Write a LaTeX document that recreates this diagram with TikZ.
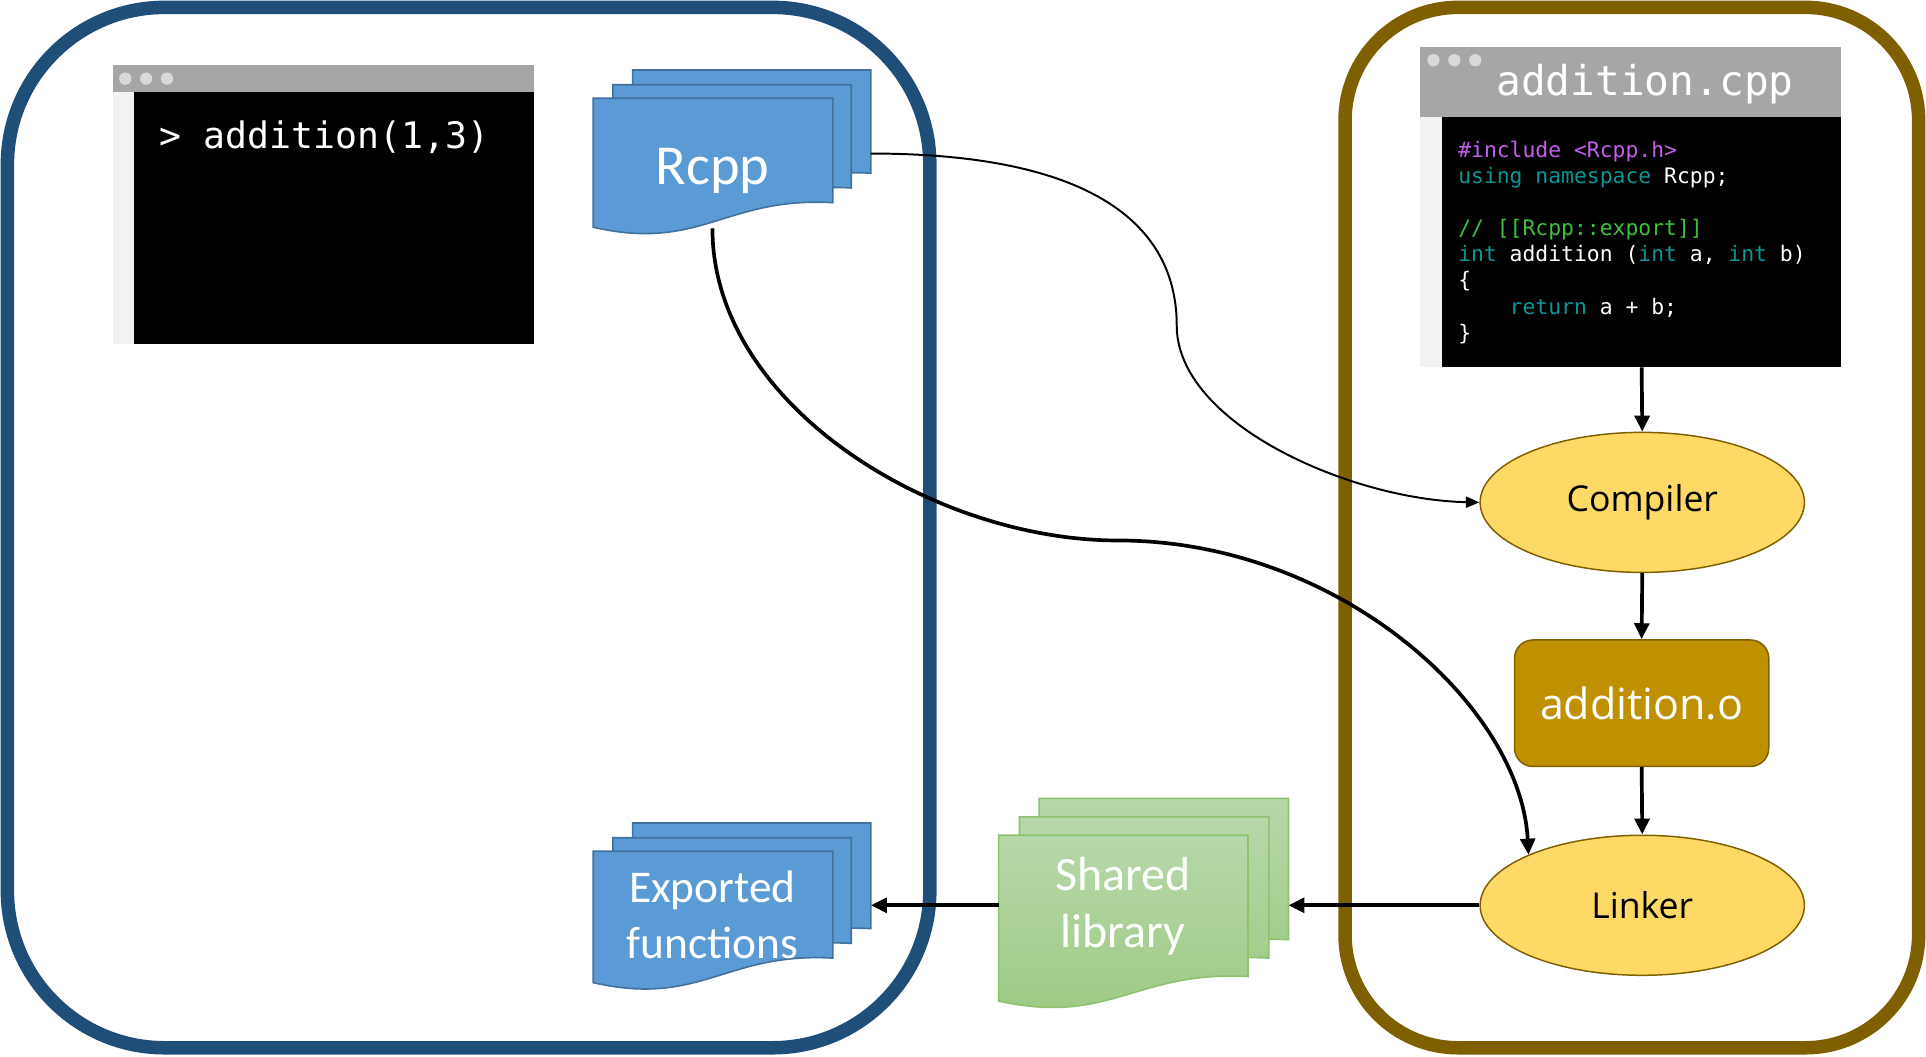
\documentclass[tikz,border=0pt]{standalone}
\usepackage{fontspec}
\usetikzlibrary{shapes.geometric,arrows.meta}
\newfontfamily\carl{Carlito}
\newfontfamily\osans{Open Sans}
\newfontfamily\dmono{DejaVu Sans Mono}[WordSpace={1,0,0}]
\definecolor{boxblue}{HTML}{1F4E79}
\definecolor{boxbrown}{HTML}{7F6000}
\definecolor{docfill}{HTML}{5B9BD5}
\definecolor{docline}{HTML}{41719C}
\definecolor{greentop}{HTML}{B7D8AA}
\definecolor{greenbot}{HTML}{9CC982}
\definecolor{greenline}{HTML}{8DC26F}
\definecolor{ellfill}{HTML}{FFD966}
\definecolor{objfill}{HTML}{BF9000}
\definecolor{bargray}{HTML}{A6A6A6}
\definecolor{stripgray}{HTML}{F2F2F2}
\definecolor{dotgray}{HTML}{D9D9D9}
\definecolor{cpurple}{HTML}{C25EEA}
\definecolor{cteal}{HTML}{0A9696}
\definecolor{cgreen}{HTML}{3CC23C}
\newcommand\docsheet[5]{\path[#5] (#1,#2) -- ++(#3,0) -- ++(0,#4) .. controls +(-0.45*#3,-5) and +(0.45*#3,20) .. ++(-#3,20) -- cycle;}
\begin{document}
\begin{tikzpicture}[x=1pt,y=-1pt,
  outerbox/.style={line width=11pt},
  bluedoc/.style={fill=docfill,draw=docline,line width=1.3pt},
  greendoc/.style={top color=greentop,bottom color=greenbot,draw=greenline,line width=1.3pt},
  doclabel/.style={text=white,font=\carl\fontsize{37}{45}\selectfont,align=center,inner sep=0pt},
  ell/.style={ellipse,fill=ellfill,draw=boxbrown,line width=1.2pt,minimum width=264pt,minimum height=114pt,inner sep=0pt,font=\osans\fontsize{29}{34}\selectfont},
  blk/.style={anchor=north west,inner sep=0pt,outer sep=0pt},
  dot/.style={circle,fill=dotgray,minimum size=10pt,inner sep=0pt},
  codeline/.style={anchor=base west,inner sep=0pt,text=white,font=\dmono\fontsize{17.4}{21}\selectfont},
  conn/.style={line width=3pt,-{Triangle[length=13pt,width=12pt]}},
  thinconn/.style={line width=1.6pt,-{Triangle[length=11pt,width=9pt]}}]
\useasboundingbox (0,0) rectangle (1568,860);
\fill[white] (0,0) rectangle (1568,860);
% outer containers
\draw[outerbox,boxblue,rounded corners=128pt] (6,6) rectangle (757,853);
\draw[outerbox,boxbrown,rounded corners=92pt] (1095,6) rectangle (1562,853);
% terminal window
\node[blk,fill=bargray,minimum width=343pt,minimum height=22pt] (tbar) at (92,53) {};
\node[blk,fill=stripgray,minimum width=17pt,minimum height=205pt] (tstrip) at (92,75) {};
\node[blk,fill=black,minimum width=326pt,minimum height=205pt] (tbody) at (109,75) {};
\node[dot] (td1) at (102,64) {};
\node[dot] (td2) at (119,64) {};
\node[dot] (td3) at (136,64) {};
\node[anchor=base west,inner sep=0pt,text=white,font=\dmono\fontsize{29.7}{34}\selectfont] (tcmd) at (130,121) {> addition(1,3)};
% code window
\node[blk,fill=bargray,minimum width=343pt,minimum height=57pt] (cbar) at (1156,38) {};
\node[blk,fill=stripgray,minimum width=18pt,minimum height=204pt] (cstrip) at (1156,95) {};
\node[blk,fill=black,minimum width=325pt,minimum height=204pt] (cbody) at (1174,95) {};
\node[dot] (cd1) at (1167,49) {};
\node[dot] (cd2) at (1184,49) {};
\node[dot] (cd3) at (1201,49) {};
\node[anchor=base west,inner sep=0pt,text=white,font=\dmono\fontsize{33.5}{40}\selectfont] (ctitle) at (1218,78) {addition.cpp};
\node[codeline] (c1) at (1187,128) {\textcolor{cpurple}{\#include <Rcpp.h>}};
\node[codeline] (c2) at (1187,149) {\textcolor{cteal}{using namespace} Rcpp;};
\node[codeline] (c3) at (1187,192) {\textcolor{cgreen}{// [[Rcpp::export]]}};
\node[codeline] (c4) at (1187,213) {\textcolor{cteal}{int} addition (\textcolor{cteal}{int} a, \textcolor{cteal}{int} b)};
\node[codeline] (c5) at (1187,234) {\{};
\node[codeline] (c6) at (1187,256) {\hspace*{2.408em}\textcolor{cteal}{return} a + b;};
\node[codeline] (c7) at (1187,277) {\}};
% Rcpp document stack
\docsheet{515}{57}{194}{84}{bluedoc}
\docsheet{499}{69}{194}{84}{bluedoc}
\docsheet{483}{80}{195}{85}{bluedoc}
\node[doclabel,font=\carl\fontsize{46}{50}\selectfont,anchor=base] (rcpp) at (580,150) {Rcpp};
\coordinate (rcppR) at (709,125);
\coordinate (rcppB) at (580,186);
% Exported functions stack
\docsheet{515}{670}{194}{86}{bluedoc}
\docsheet{499}{682}{194}{86}{bluedoc}
\docsheet{483}{693}{195}{87}{bluedoc}
\node[doclabel,anchor=base] (exp1) at (580,735) {Exported};
\node[doclabel,anchor=base] (exp2) at (580,780) {functions};
\coordinate (expR) at (709,737);
% Shared library stack
\docsheet{846}{650}{203}{115}{greendoc}
\docsheet{830}{665}{203}{115}{greendoc}
\docsheet{813}{680}{203}{115}{greendoc}
\node[doclabel,font=\carl\fontsize{39}{47}\selectfont,anchor=base] (sh1) at (914,725) {Shared};
\node[doclabel,font=\carl\fontsize{39}{47}\selectfont,anchor=base] (sh2) at (914,771) {library};
\coordinate (shR) at (1049,737);
\coordinate (shL) at (813,737);
% pipeline
\node[ell] (comp) at (1337,409) {Compiler};
\node[fill=objfill,draw=boxbrown,line width=1.2pt,rounded corners=15pt,minimum width=207pt,minimum height=103pt,inner sep=0pt,text=white,font=\osans\fontsize{35}{40}\selectfont] (obj) at (1336.5,572.5) {addition.o};
\node[ell] (link) at (1337,737) {Linker};
% connectors
\draw[conn] (cbody.south) -- (comp.north);
\draw[conn] (comp.south) -- (obj.north);
\draw[conn] (obj.south) -- (link.north);
\draw[conn] (link.west) -- (shR);
\draw[conn] (shL) -- (expR);
\draw[thinconn] (rcppR) .. controls (900,125) and (958,190) .. (958,265) .. controls (958,345) and (1100,407) .. (comp.west);
\draw[conn] (rcppB) .. controls (580,330) and (760,440) .. (910,440) .. controls (1090,440) and (1238,575) .. (link.156);
\end{tikzpicture}
\end{document}
